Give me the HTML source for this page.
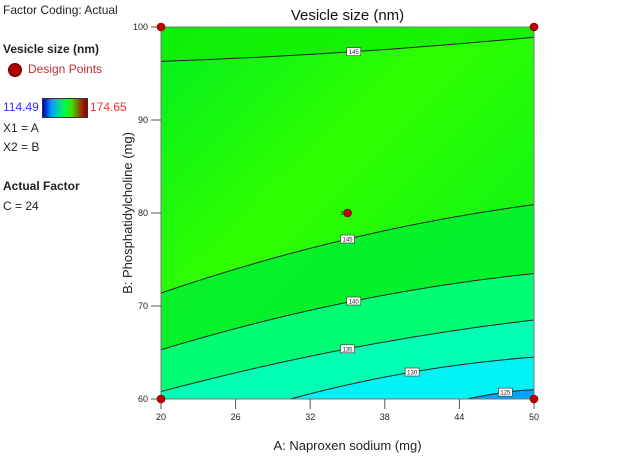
<!DOCTYPE html>
<html><head><meta charset="utf-8"><style>
body{margin:0;width:618px;height:463px;background:#fff;font-family:"Liberation Sans",sans-serif;position:relative;overflow:hidden}
.t{position:absolute;font-size:12px;color:#222;white-space:nowrap}
</style></head><body>
<div class="t" style="left:3px;top:3px">Factor Coding: Actual</div>
<div class="t" style="left:3px;top:42px;font-weight:bold">Vesicle size (nm)</div>
<div style="position:absolute;left:8px;top:63px;width:12px;height:12px;border-radius:50%;background:#b00000;border:1px solid #600"></div>
<div class="t" style="left:28px;top:62px;color:#c03030">Design Points</div>
<div class="t" style="left:3px;top:100px;color:#3030ff">114.49</div>
<div style="position:absolute;left:42px;top:98px;width:44px;height:18px;border:1px solid #333;background:linear-gradient(to right,#0000c0,#00a0ff 20%,#00ff40 50%,#40e000 65%,#a02000 90%,#900000)"></div>
<div class="t" style="left:90px;top:100px;color:#ff3030">174.65</div>
<div class="t" style="left:3px;top:121px">X1 = A</div>
<div class="t" style="left:3px;top:140px">X2 = B</div>
<div class="t" style="left:3px;top:179px;font-weight:bold">Actual Factor</div>
<div class="t" style="left:3px;top:199px">C = 24</div>
<svg id="chart" width="618" height="463" style="position:absolute;left:0;top:0"></svg>
<script>
const xTicks=[20,26,32,38,44,50];
const yTicks=[60,70,80,90,100];
const contourLevels=["145","145","140","135","130","125"];
const contourA=[[20,35,50],[20,35,50],[20,35,50],[20,35,50],[30.4,40.2,50],[44.6,47.5,50]];
const contourB=[[96.3,97.3,98.9],[71.4,77.2,80.9],[65.3,70.4,73.5],[60.8,65.4,68.5],[60,62.9,64.5],[60,60.7,61]];
const labelA=[35.5,35,35.5,35,40.2,47.5];
const regionColors=["#10f000","#00f030","#00ff80","#00ffc0","#00f0ff","#0098f8"];
const designA=[20,50,20,50,35];
const designB=[100,100,60,60,80];
const PL=161,PR=534,PT=27,PB=399;
const sx=v=>PL+(v-20)/30*(PR-PL), sy=v=>PB-(v-60)/40*(PB-PT);
const chartSvg=document.getElementById('chart');const NS='http://www.w3.org/2000/svg';
function mk(t,a,p){const e=document.createElementNS(NS,t);for(const k in a)e.setAttribute(k,a[k]);(p||chartSvg).appendChild(e);return e;}
const defs=mk('defs',{});
const grad=mk('linearGradient',{id:'bg',x1:'0',y1:'0',x2:'1',y2:'1'},defs);
mk('stop',{offset:'0','stop-color':'#00f020'},grad);mk('stop',{offset:'0.4','stop-color':'#30ff00'},grad);mk('stop',{offset:'1','stop-color':'#00f020'},grad);
const bgRect=mk('rect',{x:PL,y:PT,width:PR-PL,height:PB-PT,fill:'url(#bg)'});


function curve(i){const a=contourA[i],b=contourB[i];
 const p=a.map((v,j)=>[sx(v),sy(b[j])]);
 const cx=2*p[1][0]-(p[0][0]+p[2][0])/2, cy=2*p[1][1]-(p[0][1]+p[2][1])/2;
 return {p,cx,cy,d:`M${p[0][0]},${p[0][1]} Q${cx},${cy} ${p[2][0]},${p[2][1]}`};}
for(let i=1;i<contourLevels.length;i++){const c=curve(i);
 const r=mk('path',{d:c.d+` L${PR},${PB} L${c.p[0][0]},${PB} Z`,fill:regionColors[i],opacity:0.85});
 
 }
const topCurve=curve(0);
const topRegion=mk('path',{d:topCurve.d+` L${PR},${PT} L${PL},${PT} Z`,fill:regionColors[0],opacity:0.7});


for(let i=0;i<contourLevels.length;i++){const c=curve(i);
 const l=mk('path',{d:c.d,fill:'none',stroke:'#222','stroke-width':1});
 
 
 const a=contourA[i];const t=(labelA[i]-a[0])/(a[2]-a[0]);
 const p=c.p;
 const X=(1-t)*(1-t)*p[0][0]+2*t*(1-t)*c.cx+t*t*p[2][0],Y=(1-t)*(1-t)*p[0][1]+2*t*(1-t)*c.cy+t*t*p[2][1];
 const lb=mk('rect',{x:X-7,y:Y-4,width:14,height:8,fill:'#fff',stroke:'#444','stroke-width':0.7});
 
 
 const tx=mk('text',{x:X,y:Y+2.5,'font-size':6,'text-anchor':'middle',fill:'#222'});tx.textContent=contourLevels[i];
 
 }
const fr=mk('rect',{x:PL,y:PT,width:PR-PL,height:PB-PT,fill:'none',stroke:'#777','stroke-width':1});


xTicks.forEach(v=>{const x=sx(v);
 const l=mk('line',{x1:x,y1:PB,x2:x,y2:PB+10,stroke:'#555'});
 
 
 const t=mk('text',{x:x,y:PB+21,'font-size':9,'text-anchor':'middle',fill:'#222'});t.textContent=v;
 
 });
yTicks.forEach(v=>{const y=sy(v);
 const l=mk('line',{x1:PL-10,y1:y,x2:PL,y2:y,stroke:'#555'});
 
 
 const t=mk('text',{x:PL-13,y:y+3,'font-size':9,'text-anchor':'end',fill:'#222'});t.textContent=v;
 
 });
designA.forEach((v,i)=>{const c=mk('circle',{cx:sx(v),cy:sy(designB[i]),r:4,fill:'#c00000',stroke:'#600','stroke-width':0.6});
 
 });
const n3=mk('text',{x:sx(35)-7,y:sy(80)+2,'font-size':5,fill:'#222'});n3.textContent='3';


const title=mk('text',{x:(PL+PR)/2,y:20,'font-size':15,'text-anchor':'middle',fill:'#111'});title.textContent='Vesicle size (nm)';


const xt=mk('text',{x:(PL+PR)/2,y:450,'font-size':13,'text-anchor':'middle',fill:'#222'});xt.textContent='A: Naproxen sodium (mg)';


const yt=mk('text',{x:0,y:0,'font-size':13,'text-anchor':'middle',fill:'#222',transform:`translate(132,${(PT+PB)/2}) rotate(-90)`});yt.textContent='B: Phosphatidylcholine (mg)';


</script>
</body></html>
